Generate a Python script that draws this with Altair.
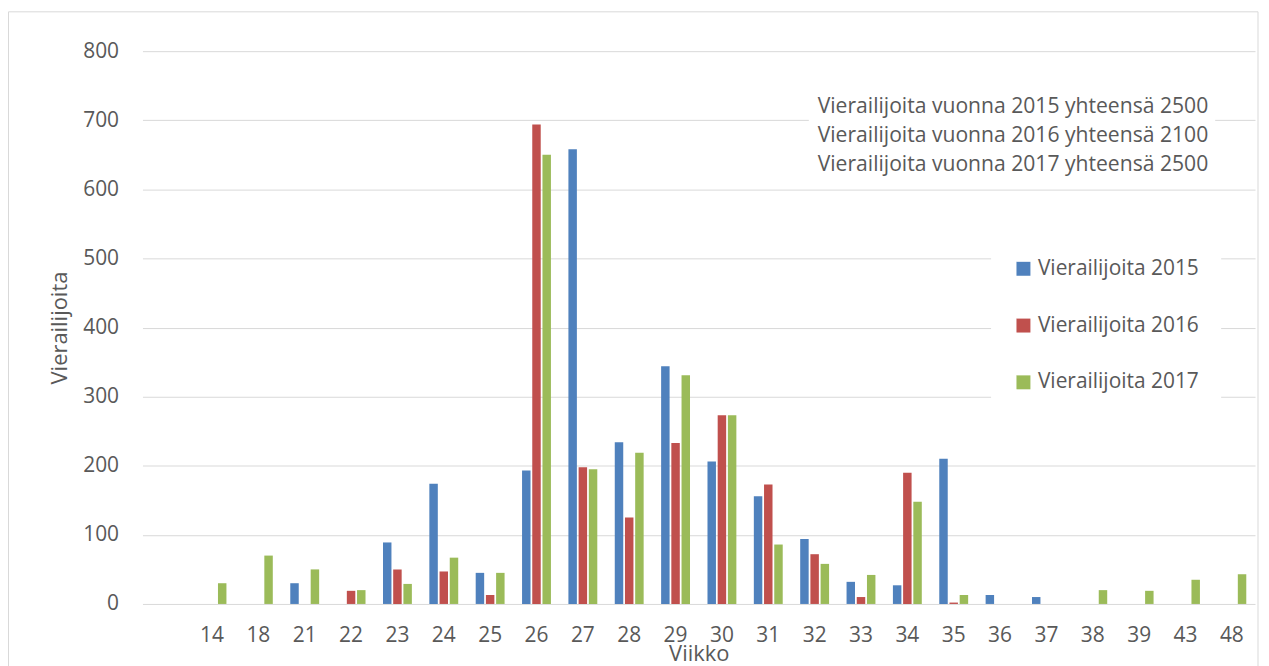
import altair as alt
import pandas as pd

# ---- data ----
weeks = ["14", "18", "21", "22", "23", "24", "25", "26", "27", "28", "29", "30",
         "31", "32", "33", "34", "35", "36", "37", "38", "39", "43", "48"]
v2015 = [0, 0, 30, 0, 89, 174, 45, 193, 658, 234, 344, 206,
         156, 94, 32, 27, 210, 13, 10, 0, 0, 0, 0]
v2016 = [0, 0, 0, 19, 50, 47, 13, 694, 198, 125, 233, 273,
         173, 72, 10, 190, 2, 0, 0, 0, 0, 0, 0]
v2017 = [30, 70, 50, 20, 29, 67, 45, 650, 195, 219, 331, 273,
         86, 58, 42, 148, 13, 0, 0, 20, 19, 35, 43]
series = ["Vierailijoita 2015", "Vierailijoita 2016", "Vierailijoita 2017"]
colors = ["#4F81BD", "#C0504D", "#9BBB59"]
notes = ["Vierailijoita vuonna 2015 yhteensä 2500",
         "Vierailijoita vuonna 2016 yhteensä 2100",
         "Vierailijoita vuonna 2017 yhteensä 2500"]
y_ticks = [0, 100, 200, 300, 400, 500, 600, 700, 800]

rows = []
for s, vals in zip(series, [v2015, v2016, v2017]):
    for w, v in zip(weeks, vals):
        rows.append({"Viikko": w, "Sarja": s, "Arvo": v})
df = pd.DataFrame(rows)
one = pd.DataFrame({"k": [0]})

FONT = "Open Sans"
TXT = "#595959"
GRID = "#d9d9d9"

x_domain = [""] + weeks

bars = alt.Chart(df).mark_bar().encode(
    x=alt.X("Viikko:N",
            scale=alt.Scale(domain=x_domain, paddingInner=0.377, paddingOuter=0.1885),
            axis=alt.Axis(title="Viikko", labelAngle=0, labelFontSize=21, labelColor=TXT,
                          labelBaseline="middle", labelPadding=32, ticks=False,
                          domain=False, grid=False, titleFontSize=22,
                          titleFontWeight="normal", titleColor=TXT,
                          titleBaseline="middle", titleY=50)),
    y=alt.Y("Arvo:Q",
            scale=alt.Scale(domain=[0, 800], nice=False),
            axis=alt.Axis(title="Vierailijoita", values=y_ticks, labelFontSize=21,
                          labelColor=TXT, labelPadding=24, ticks=False, domain=False,
                          gridColor=GRID, gridWidth=1, titleFontSize=22,
                          titleFontWeight="normal", titleColor=TXT, titleAngle=270,
                          titleBaseline="middle", titleAlign="center", titleX=-83,
                          titleY=277.5)),
    xOffset=alt.XOffset("Sarja:N",
                        scale=alt.Scale(domain=series, paddingInner=0.17, paddingOuter=0)),
    color=alt.Color("Sarja:N",
                    scale=alt.Scale(domain=series, range=colors),
                    legend=alt.Legend(title=None, orient="none", legendX=852, legendY=186,
                                      fillColor="white", padding=22, symbolType="square",
                                      symbolSize=196, symbolStrokeWidth=0,
                                      labelFontSize=21, labelColor=TXT, labelFont=FONT,
                                      labelLimit=400, rowPadding=35, labelOffset=4)),
)

border = alt.Chart(one).mark_rect(fillOpacity=0, stroke=GRID, strokeWidth=1).encode(
    x=alt.value(-134.5), x2=alt.value(1120), y=alt.value(-39.5), y2=alt.value(700)
)

knockout = alt.Chart(one).mark_rect(color="white").encode(
    x=alt.value(669), x2=alt.value(1077), y=alt.value(42), y2=alt.value(128)
)

note = alt.Chart(one).mark_text(
    text=notes, align="right", baseline="middle", fontSize=21.2, lineHeight=29.3,
    color=TXT, font=FONT
).encode(x=alt.value(1070), y=alt.value(56))

chart = alt.layer(border, bars, knockout, note).properties(
    width=1117, height=555,
    autosize=alt.AutoSizeParams(type="none"),
    padding={"left": 135, "top": 42, "right": 6, "bottom": 70},
).configure(font=FONT).configure_view(stroke=None)

chart.save("out.html", embed_options={"renderer": "svg", "actions": False})
